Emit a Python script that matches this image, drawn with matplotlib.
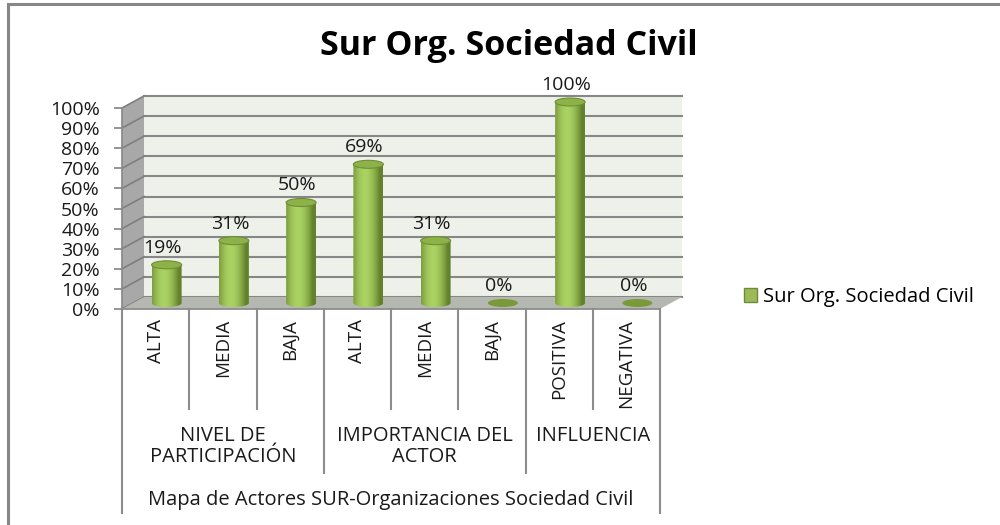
import numpy as np
import matplotlib
matplotlib.use("Agg")
import matplotlib.pyplot as plt
import matplotlib.transforms as mtransforms
from matplotlib.patches import Polygon, Rectangle, Ellipse, Patch
from matplotlib.colors import to_rgb

plt.rcParams["font.family"] = ["Open Sans", "DejaVu Sans"]

# --- data ---
TITLE       = "Sur Org. Sociedad Civil"
SERIES      = "Sur Org. Sociedad Civil"
CATEGORIES  = ["ALTA", "MEDIA", "BAJA", "ALTA", "MEDIA", "BAJA", "POSITIVA", "NEGATIVA"]
VALUES      = [19, 31, 50, 69, 31, 0, 100, 0]
GROUPS      = ["NIVEL DE\nPARTICIPACIÓN", "IMPORTANCIA DEL\nACTOR", "INFLUENCIA"]
GROUP_SIZES = [3, 3, 2]
AXIS_TITLE  = "Mapa de Actores SUR-Organizaciones Sociedad Civil"
Y_TICKS     = list(range(0, 101, 10))

# --- layout (pixels of a 1000x525 canvas) ---
W, H = 1000, 525
AX_L, AX_R, AX_T, AX_B = 122, 660, 108, 309
DX_PX, DY_PX = 22, 12          # depth of the 3D box
BAR_W_PX, TOP_H_PX = 30, 8     # cylinder width / ellipse height

# --- colours ---
WALL      = "#EEF0EA"
SIDE      = "#A8A8A8"
FLOOR     = "#B5B8B0"
GRID      = "#878787"
LINE      = "#8C8C8C"
BAR_LIGHT = "#ABD363"
BAR_DARK  = "#62822B"
BAR_TOP   = "#8DB24A"
BAR_RIM   = "#6E8F33"
FLAT      = "#7A9A3A"
TXT       = "#1a1a1a"

n = len(CATEGORIES)
ax_w, ax_h = AX_R - AX_L, AX_B - AX_T
dx = DX_PX * n / ax_w
dy = DY_PX * 100 / ax_h
bar_w = BAR_W_PX * n / ax_w
top_h = TOP_H_PX * 100 / ax_h

fig = plt.figure(figsize=(W / 100, H / 100), dpi=100)
ax = fig.add_axes([AX_L / W, 1 - AX_B / H, ax_w / W, ax_h / H])
ax.patch.set_visible(False)
for s in ["top", "right", "bottom"]:
    ax.spines[s].set_visible(False)
ax.spines["left"].set_color(LINE)
ax.spines["left"].set_linewidth(1.3)

# --- box: back wall, side wall, floor ---
ax.add_patch(Rectangle((dx, dy), n, 100, fc=WALL, ec="none", zorder=0, clip_on=False))
ax.add_patch(Polygon([(0, 0), (0, 100), (dx, 100 + dy), (dx, dy)], closed=True,
                     fc=SIDE, ec="none", zorder=0.5, clip_on=False))
for v in Y_TICKS:
    ax.plot([dx, n + dx], [v + dy, v + dy], color=GRID, lw=1.5, zorder=1, clip_on=False)
    ax.plot([0, dx], [v, v + dy], color="#7E7E7E", lw=1.2, zorder=1, clip_on=False)
ax.add_patch(Polygon([(0, 0), (n, 0), (n + dx, dy), (dx, dy)], closed=True,
                     fc=FLOOR, ec="none", zorder=1.5, clip_on=False))
ax.plot([0, n], [0, 0], color=LINE, lw=1.3, zorder=1.6, clip_on=False)

# --- cylinders ---
t = np.linspace(-1, 1, 80)
w = np.clip(1 - np.abs(t + 0.2) ** 1.8, 0, 1)
lo, hi = np.array(to_rgb(BAR_DARK)), np.array(to_rgb(BAR_LIGHT))
grad = lo[None, :] * (1 - w[:, None]) + hi[None, :] * w[:, None]
grad = np.repeat(grad[None, :, :], 2, axis=0)

base = dy / 2
for i, v in enumerate(VALUES):
    cx = i + 0.5 + dx / 2
    if v == 0:
        ax.add_patch(Ellipse((cx, base), bar_w, top_h, fc=FLAT, ec="none",
                             zorder=3, clip_on=False))
        top = base
    else:
        top = base + v
        theta = np.linspace(np.pi, 2 * np.pi, 40)
        ell = [(cx + bar_w / 2 * np.cos(a), base + top_h / 2 * np.sin(a)) for a in theta]
        body = Polygon(ell + [(cx + bar_w / 2, top), (cx - bar_w / 2, top)], closed=True,
                       fc="none", ec="none", transform=ax.transData)
        im = ax.imshow(grad, extent=(cx - bar_w / 2, cx + bar_w / 2, base - top_h, top),
                       aspect="auto", interpolation="bilinear", zorder=3, origin="lower")
        im.set_clip_path(body)
        im.set_clip_box(fig.bbox)
        ax.add_patch(Ellipse((cx, top), bar_w, top_h, fc=BAR_TOP, ec=BAR_RIM, lw=0.8,
                             zorder=3.1, clip_on=False))
    ax.annotate(f"{v}%", xy=(cx, top + top_h / 2), xytext=(-4, 4),
                textcoords="offset pixels", ha="center", va="bottom",
                fontsize=14, color=TXT, annotation_clip=False, zorder=4)

ax.set_xlim(0, n)
ax.set_ylim(0, 100)

# --- y axis ---
ax.set_xticks([])
ax.set_yticks(Y_TICKS)
ax.set_yticklabels([f"{v}%" for v in Y_TICKS])
ax.tick_params(axis="y", direction="out", length=6, width=1.3, color=LINE,
               pad=10, labelsize=14, labelcolor=TXT)

# --- multi-level category axis ---
btr = mtransforms.blended_transform_factory(ax.transData, ax.transAxes)
group_edges = np.cumsum([0] + GROUP_SIZES)
for k in range(n + 1):
    if k in (0, n):
        depth = 204
    elif k in group_edges:
        depth = 164
    else:
        depth = 100
    ax.plot([k, k], [0, -depth / ax_h], color=LINE, lw=1.5, transform=btr, clip_on=False)

for i, c in enumerate(CATEGORIES):
    ax.annotate(c, xy=(i + 0.5, 0), xycoords=btr, xytext=(0, -10), textcoords="offset pixels",
                rotation=90, ha="center", va="top", fontsize=13.5, color=TXT)

for g, (a, b) in enumerate(zip(group_edges[:-1], group_edges[1:])):
    ax.annotate(GROUPS[g], xy=((a + b) / 2, 0), xycoords=btr, xytext=(0, -117),
                textcoords="offset pixels", ha="center", va="top", multialignment="center",
                fontsize=14.5, color=TXT, linespacing=1.05)

ax.annotate(AXIS_TITLE, xy=(n / 2, 0), xycoords=btr, xytext=(0, -191),
            textcoords="offset pixels", ha="center", va="center", fontsize=14.5, color=TXT)

# --- title, legend, frame ---
fig.text(509 / W, 1 - 55 / H, TITLE, ha="center", va="baseline",
         fontsize=24.5, fontweight="bold", color="#000000")

ax.legend(handles=[Patch(fc="#9BBB59", ec="#71893F")], labels=[SERIES],
          loc="center left", bbox_to_anchor=(744 / W, 1 - 297 / H),
          bbox_transform=fig.transFigure, frameon=False, fontsize=14.5,
          handlelength=0.65, handleheight=0.65, handletextpad=0.3,
          borderpad=0, borderaxespad=0)

fig.add_artist(Rectangle((8 / W, -0.05), 1.1, 1 - 4 / H + 0.05, transform=fig.transFigure,
                         fill=False, ec="#868686", lw=2.2))

fig.savefig("out.png", dpi=100)
